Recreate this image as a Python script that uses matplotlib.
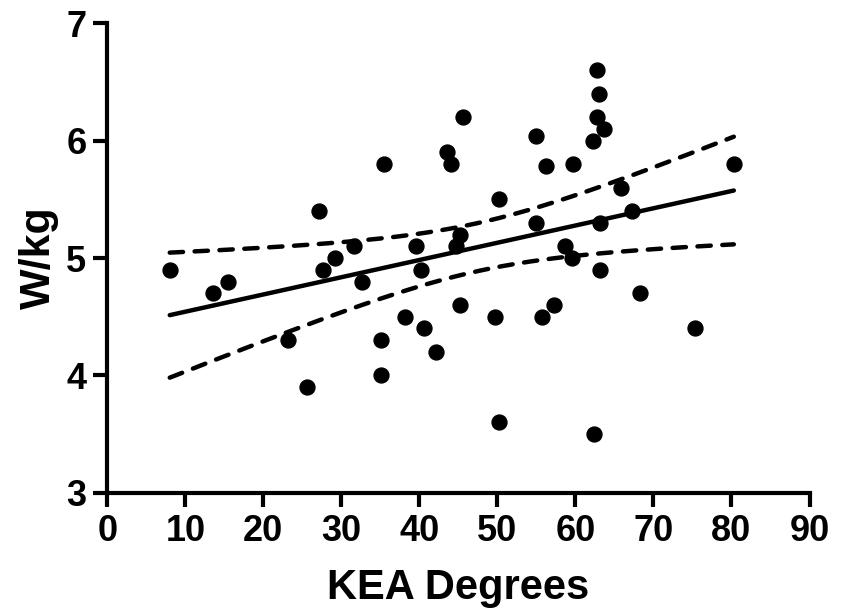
import matplotlib
matplotlib.use("Agg")
import matplotlib.pyplot as plt
import numpy as np

plt.rcParams['font.family'] = ['Liberation Sans', 'DejaVu Sans']
plt.rcParams['font.weight'] = 'bold'

# KEA degrees vs power-to-weight
kea = [8.0, 13.5, 15.5, 23.1, 25.6, 27.1, 27.6, 29.2, 31.6, 32.6,
       35.5, 35.1, 35.1, 38.1, 39.6, 40.2, 40.6, 42.1, 43.6, 44.1,
       45.6, 45.2, 44.7, 45.2, 50.2, 49.7, 50.2, 54.9, 55.0, 56.2,
       55.7, 57.2, 59.7, 58.7, 59.5, 62.2, 62.7, 63.0, 62.7, 63.7,
       63.2, 63.2, 62.4, 65.8, 67.3, 68.3, 75.3, 80.3]
wkg = [4.9, 4.7, 4.8, 4.3, 3.9, 5.4, 4.9, 5.0, 5.1, 4.8,
       5.8, 4.3, 4.0, 4.5, 5.1, 4.9, 4.4, 4.2, 5.9, 5.8,
       6.2, 5.2, 5.1, 4.6, 5.5, 4.5, 3.6, 6.04, 5.3, 5.78,
       4.5, 4.6, 5.8, 5.1, 5.0, 6.0, 6.6, 6.4, 6.2, 6.1,
       5.3, 4.9, 3.5, 5.6, 5.4, 4.7, 4.4, 5.8]

x = np.array(kea)
y = np.array(wkg)
n = len(x)

# linear fit + 95% confidence band of the mean
slope, intercept = np.polyfit(x, y, 1)
resid = y - (slope * x + intercept)
s = np.sqrt(np.sum(resid ** 2) / (n - 2))
t_crit = 2.013  # t(0.975, df=46)
xs = np.linspace(x.min(), x.max(), 200)
fit = slope * xs + intercept
se = s * np.sqrt(1.0 / n + (xs - x.mean()) ** 2 / np.sum((x - x.mean()) ** 2))

fig = plt.figure(figsize=(8.45, 6.1), dpi=100)
ax = fig.add_axes([0.127, 0.192, 0.831, 0.770])

ax.scatter(x, y, s=115, color='black', zorder=3, clip_on=False)
ax.plot(xs, fit, color='black', lw=3.2, solid_capstyle='round')
for band in (fit + t_crit * se, fit - t_crit * se):
    ax.plot(xs, band, color='black', lw=3.2, ls=(0, (3, 2.6)),
            dash_capstyle='round')

ax.set_xlim(0, 90)
ax.set_ylim(3, 7)
ax.set_xticks(np.arange(0, 91, 10))
ax.set_yticks([3, 4, 5, 6, 7])

for side in ['top', 'right']:
    ax.spines[side].set_visible(False)
for side in ['left', 'bottom']:
    ax.spines[side].set_linewidth(3)
    ax.spines[side].set_capstyle('projecting')

ax.tick_params(width=3, length=10, labelsize=26, pad=5)
for lbl in ax.get_xticklabels() + ax.get_yticklabels():
    lbl.set_fontweight('bold')

ax.set_xlabel("KEA Degrees", fontsize=30, fontweight='bold', labelpad=14)
ax.set_ylabel("W/kg", fontsize=31, fontweight='bold', labelpad=5)

fig.savefig("out.png", dpi=100)
